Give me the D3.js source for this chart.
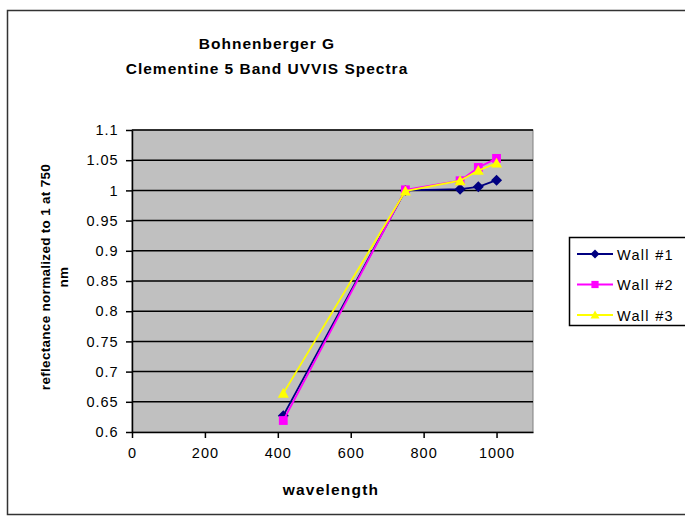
<!DOCTYPE html>
<html>
<head>
<meta charset="utf-8">
<script src="https://cdn.jsdelivr.net/npm/d3@7"></script>
<style>
  html, body { margin: 0; padding: 0; background: #ffffff; }
  svg { display: block; font-family: "Liberation Sans", Arial, sans-serif; }
</style>
</head>
<body>
<svg id="chart" width="685" height="518"></svg>
<script>
// Clementine UVVIS band centres (nm)
const wavelengths = [415, 750, 900, 950, 1000];
// Reflectance normalised to 1 at 750 nm
const wall1 = [0.627, 1.000, 1.002, 1.006, 1.017];
const wall2 = [0.619, 1.001, 1.016, 1.038, 1.053];
const wall3 = [0.664, 0.999, 1.016, 1.033, 1.045];
const seriesNames = ["Wall #1", "Wall #2", "Wall #3"];
const xTicks = [0, 200, 400, 600, 800, 1000];
const yTicks = [0.6, 0.65, 0.7, 0.75, 0.8, 0.85, 0.9, 0.95, 1, 1.05, 1.1];

const series = [
  { name: seriesNames[0], values: wall1, color: "#000080", shape: "diamond" },
  { name: seriesNames[1], values: wall2, color: "#ff00ff", shape: "square" },
  { name: seriesNames[2], values: wall3, color: "#ffff00", shape: "triangle" }
];

const svg = d3.select("#chart");
const plot = { left: 132, right: 533, top: 130, bottom: 432 };

const x = d3.scaleLinear().domain([0, 1100]).range([plot.left, plot.right]);
const y = d3.scaleLinear().domain([0.6, 1.1]).range([plot.bottom, plot.top]);

// chart frame
svg.append("rect")
  .attr("x", 7.5).attr("y", 10.5).attr("width", 700).attr("height", 504)
  .attr("fill", "#fff").attr("stroke", "#333").attr("stroke-width", 1.5);

// titles
const title = svg.append("text")
  .attr("text-anchor", "middle").attr("font-weight", "bold")
  .attr("font-size", 15.5).attr("fill", "#000").attr("letter-spacing", 1);
title.append("tspan").attr("x", 267).attr("y", 49).text("Bohnenberger G");
title.append("tspan").attr("x", 267).attr("y", 74).text("Clementine 5 Band UVVIS Spectra");

// plot area
svg.append("rect")
  .attr("x", plot.left).attr("y", plot.top)
  .attr("width", plot.right - plot.left).attr("height", plot.bottom - plot.top)
  .attr("fill", "#c0c0c0").attr("stroke", "#808080").attr("stroke-width", 1);

// horizontal gridlines
svg.append("g").selectAll("line")
  .data(yTicks.slice(1))
  .join("line")
  .attr("x1", plot.left).attr("x2", plot.right)
  .attr("y1", d => y(d)).attr("y2", d => y(d))
  .attr("stroke", "#000").attr("stroke-width", 1.5);

// axes
const xAxis = svg.append("g")
  .attr("transform", `translate(0,${plot.bottom})`)
  .call(d3.axisBottom(x).tickValues(xTicks).tickFormat(d3.format("d")).tickSize(6).tickSizeOuter(0));
const yAxis = svg.append("g")
  .attr("transform", `translate(${plot.left},0)`)
  .call(d3.axisLeft(y).tickValues(yTicks).tickFormat(d => String(d)).tickSize(6).tickSizeOuter(0));

[xAxis, yAxis].forEach(g => {
  g.select(".domain").attr("stroke", "#000").attr("stroke-width", 1.5);
  g.selectAll(".tick line").attr("stroke", "#000").attr("stroke-width", 1.5);
  g.selectAll(".tick text")
    .attr("font-family", "Liberation Sans, Arial, sans-serif")
    .attr("font-size", 14.5).attr("fill", "#000").attr("letter-spacing", 1);
});
xAxis.selectAll(".tick text").attr("dy", "1.15em");
yAxis.selectAll(".tick text").attr("dx", "-0.3em");

// axis titles
svg.append("text")
  .attr("x", 331).attr("y", 495)
  .attr("text-anchor", "middle").attr("font-weight", "bold")
  .attr("font-size", 15.5).attr("letter-spacing", 1.2)
  .text("wavelength");

const yTitle = svg.append("text")
  .attr("transform", `translate(50,277) rotate(-90)`)
  .attr("text-anchor", "middle").attr("font-weight", "bold")
  .attr("font-size", 13.5).attr("letter-spacing", 0.3);
yTitle.append("tspan").attr("x", 0).attr("y", 0).text("reflectance normalized to 1 at 750");
yTitle.append("tspan").attr("x", 0).attr("y", 18).text("nm");

// markers
function marker(sel, shape, color, size) {
  if (shape === "diamond") {
    sel.append("path").attr("d", `M0,${-size}L${size},0L0,${size}L${-size},0Z`).attr("fill", color);
  } else if (shape === "square") {
    sel.append("rect").attr("x", -size * 0.8).attr("y", -size * 0.8)
      .attr("width", size * 1.6).attr("height", size * 1.6).attr("fill", color);
  } else {
    sel.append("path").attr("d", `M0,${-size}L${size},${size * 0.8}L${-size},${size * 0.8}Z`).attr("fill", color);
  }
}

const line = d3.line().x(d => x(d[0])).y(d => y(d[1]));

series.forEach(s => {
  const pts = wavelengths.map((w, i) => [w, s.values[i]]);
  const g = svg.append("g");
  g.append("path").datum(pts).attr("d", line)
    .attr("fill", "none").attr("stroke", s.color).attr("stroke-width", 1.8);
  g.selectAll("g.pt").data(pts).join("g").attr("class", "pt")
    .attr("transform", d => `translate(${x(d[0])},${y(d[1])})`)
    .each(function () { marker(d3.select(this), s.shape, s.color, 5.5); });
});

// legend
const legend = svg.append("g");
legend.append("rect")
  .attr("x", 569.5).attr("y", 237.5).attr("width", 140).attr("height", 88)
  .attr("fill", "#fff").attr("stroke", "#000").attr("stroke-width", 1.5);
series.forEach((s, i) => {
  const ly = 254 + i * 30.5;
  const row = legend.append("g");
  row.append("line").attr("x1", 577).attr("x2", 613).attr("y1", ly).attr("y2", ly)
    .attr("stroke", s.color).attr("stroke-width", 1.8);
  const m = row.append("g").attr("transform", `translate(595,${ly})`);
  marker(m, s.shape, s.color, 4.5);
  row.append("text").attr("x", 617).attr("y", ly + 5.5)
    .attr("font-size", 14.5).attr("letter-spacing", 1.3).text(s.name);
});
</script>
</body>
</html>
